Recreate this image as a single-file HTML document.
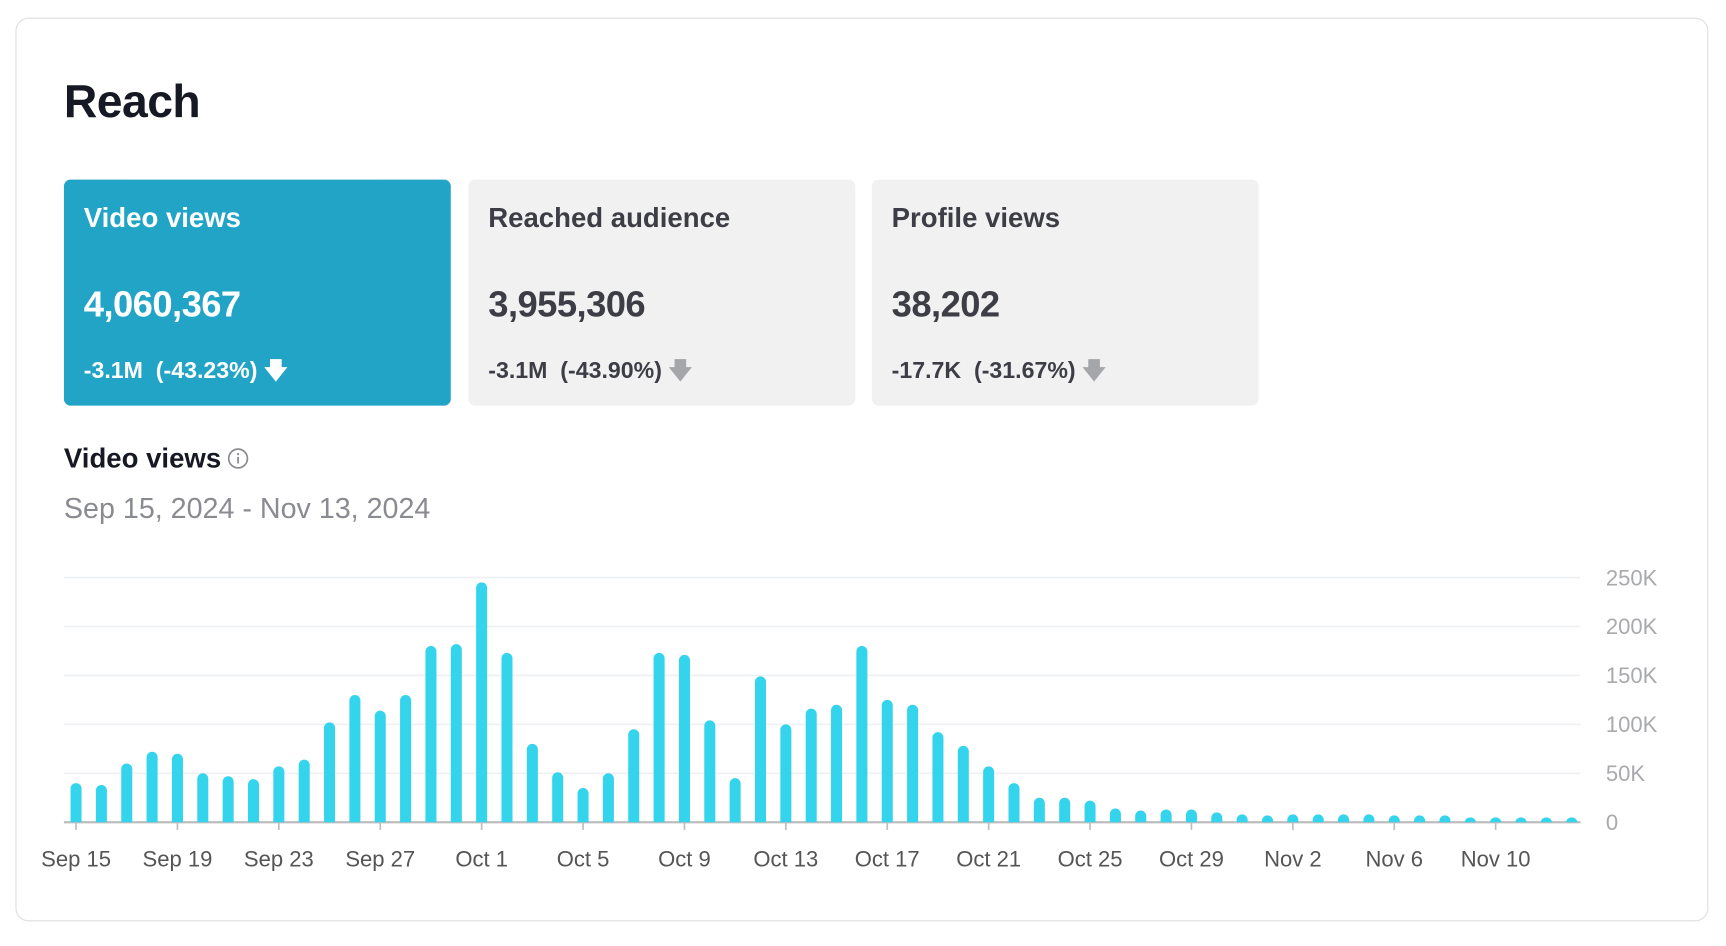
<!DOCTYPE html>
<html><head><meta charset="utf-8"><style>
html,body{margin:0;padding:0;background:#fff;width:1726px;height:946px;overflow:hidden;font-family:"Liberation Sans",sans-serif;}
#wrap{position:absolute;left:0;top:0;width:1566px;height:858px;transform:scale(1.10217);transform-origin:0 0;}
.card{position:absolute;left:14px;top:16px;width:1536px;height:820px;border:1.5px solid #dedede;border-radius:12px;box-sizing:border-box;}
.title{position:absolute;left:58px;top:68px;font-size:42px;font-weight:bold;color:#161823;letter-spacing:-0.5px;}
.tile{position:absolute;top:163px;width:351px;height:205px;border-radius:6px;background:#f1f1f2;color:#3d3e45;}
.tile.active{background:#22a4c6;color:#fff;}
.lab{position:absolute;left:18px;top:184px;font-size:25px;font-weight:bold;}
.tile .lab{top:21px;}
.val{position:absolute;left:18px;top:94px;font-size:33px;font-weight:bold;letter-spacing:-0.5px;}
.chg{position:absolute;left:18px;top:159px;font-size:21px;font-weight:bold;}
.arrow{display:inline-block;margin-left:6px;}
.sub{position:absolute;left:58px;top:402px;font-size:25px;font-weight:bold;color:#161823;}
.date{position:absolute;left:58px;top:446px;font-size:26px;color:#8a8b91;}
svg{position:absolute;left:0;top:0;}
</style></head><body>
<div id="wrap">
<div class="card"></div>
<div class="title">Reach</div>
<div class="tile active" style="left:58px">
 <div class="lab">Video views</div><div class="val">4,060,367</div>
 <div class="chg">-3.1M&nbsp; (-43.23%)<span class="arrow">🡇</span></div></div>
<div class="tile" style="left:425px">
 <div class="lab">Reached audience</div><div class="val">3,955,306</div>
 <div class="chg">-3.1M&nbsp; (-43.90%)<span class="arrow" style="color:#a5a6aa">🡇</span></div></div>
<div class="tile" style="left:791px">
 <div class="lab">Profile views</div><div class="val">38,202</div>
 <div class="chg">-17.7K&nbsp; (-31.67%)<span class="arrow" style="color:#a5a6aa">🡇</span></div></div>
<div class="sub">Video views <svg style="position:relative;left:-2px;top:2px" width="20" height="20"><circle cx="10" cy="10" r="8.5" fill="none" stroke="#8a8b91" stroke-width="1.5"/><rect x="9.2" y="8.5" width="1.6" height="6" fill="#8a8b91"/><circle cx="10" cy="6" r="1" fill="#8a8b91"/></svg></div>
<div class="date">Sep 15, 2024 - Nov 13, 2024</div>
<svg id="chart" width="1566" height="858"></svg>
</div>
<script>
const values=[40,38,60,72,70,50,47,44,57,64,102,130,114,130,180,182,245,173,80,51,35,50,95,173,171,104,45,149,100,116,120,180,125,120,92,78,57,40,25,25,22,14,12,13,13,10,8,7,8,8,8,8,7,7,7,5,5,5,5,5];
const yTicks=[0,50,100,150,200,250];
const xLabels=["Sep 15","Sep 19","Sep 23","Sep 27","Oct 1","Oct 5","Oct 9","Oct 13","Oct 17","Oct 21","Oct 25","Oct 29","Nov 2","Nov 6","Nov 10"];
const svg=document.getElementById('chart');const NS='http://www.w3.org/2000/svg';
const y0=746,pxPerK=44.4/50,xStart=69,step=23;
const yS=v=>y0-v*pxPerK, xS=i=>xStart+i*step;
function mk(t,a){const e=document.createElementNS(NS,t);for(const k in a)e.setAttribute(k,a[k]);svg.appendChild(e);return e;}
yTicks.forEach(v=>{
 const g=mk('line',{x1:58,x2:1434,y1:yS(v),y2:yS(v),stroke:v===0?'#bdbdbd':'#eef0f3','stroke-width':v===0?2:1.5});
 
 
 const t=mk('text',{x:1457,y:yS(v)+7,'font-size':20,fill:'#a9aaad','font-family':'Liberation Sans'});
 t.textContent=v===0?'0':v+'K';
 
 
});
values.forEach((v,i)=>{
 const x=xS(i)-5,top=yS(v),h=y0-top;
 const r=Math.min(5,h);
 const p=mk('path',{d:`M${x},${y0} L${x},${top+r} A5,${r} 0 0 1 ${x+10},${top+r} L${x+10},${y0} Z`,fill:'#33d4ec'});
 
 
});
xLabels.forEach((l,j)=>{
 const x=xS(j*4);
 const tk=mk('line',{x1:x,x2:x,y1:y0,y2:y0+7,stroke:'#bdbdbd','stroke-width':1.5});
 
 
 const t=mk('text',{x:x,y:786,'font-size':20,fill:'#555','text-anchor':'middle','font-family':'Liberation Sans'});
 t.textContent=l;
 
 
});
</script>
</body></html>
